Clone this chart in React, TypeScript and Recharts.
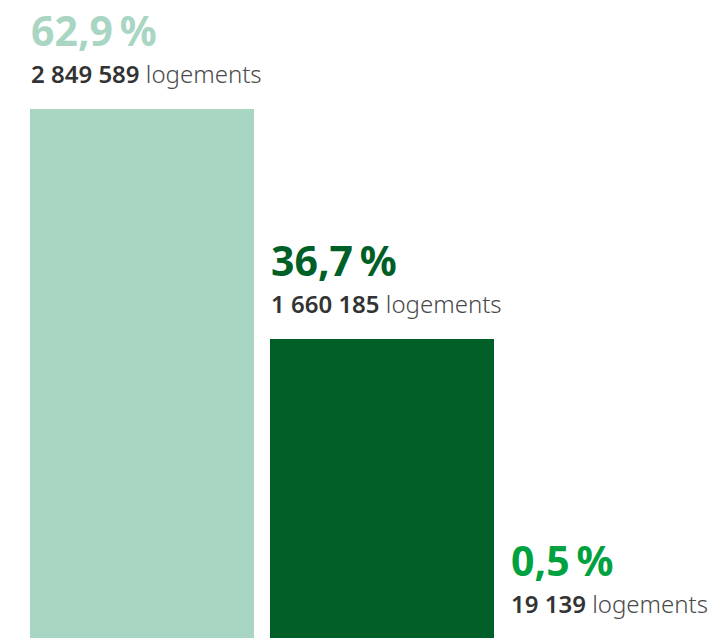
import { BarChart, Bar, XAxis, YAxis, Cell, LabelList } from 'recharts';

const categories = ['Logements collectifs', 'Logements individuels', 'Autres'];
const shares = [62.9, 36.7, 0.5];
const counts = ['2 849 589', '1 660 185', '19 139'];
const shareLabels = ['62,9\u202F%', '36,7\u202F%', '0,5\u202F%'];

const COLORS = ['#a9d6c3', '#005f27', '#00a13f'];
const FONT = '"Noto Sans", sans-serif';

const data = categories.map((name, i) => ({
  name,
  value: shares[i],
  share: shareLabels[i],
  count: counts[i],
}));

function BarLabel(props: any) {
  const { x, y, index } = props;
  const d = data[index];
  return (
    <g>
      <text x={x + 1} y={y - 63} fill={COLORS[index]} fontFamily={FONT} fontSize={41} fontWeight={700}>
        {d.share}
      </text>
      <text x={x + 1} y={y - 26} fontFamily={FONT} fontSize={24}>
        <tspan fill="#333333" fontWeight={600}>{d.count}</tspan>
        <tspan fill="#4a4a4a" fontWeight={300}> logements</tspan>
      </text>
    </g>
  );
}

export default function App() {
  return (
    <div style={{ position: 'absolute', left: 0, top: 0, width: 716, height: 638, overflow: 'hidden', background: '#fff' }}>
      <BarChart
        width={742}
        height={661}
        data={data}
        margin={{ top: 109, right: 0, bottom: 0, left: 22 }}
        barCategoryGap={8}
      >
        <XAxis dataKey="name" hide />
        <YAxis domain={[0, 62.9]} hide />
        <Bar dataKey="value" minPointSize={22} isAnimationActive={false}>
          {data.map((d, i) => (
            <Cell key={d.name} fill={COLORS[i]} />
          ))}
          <LabelList dataKey="value" content={BarLabel} />
        </Bar>
      </BarChart>
    </div>
  );
}
